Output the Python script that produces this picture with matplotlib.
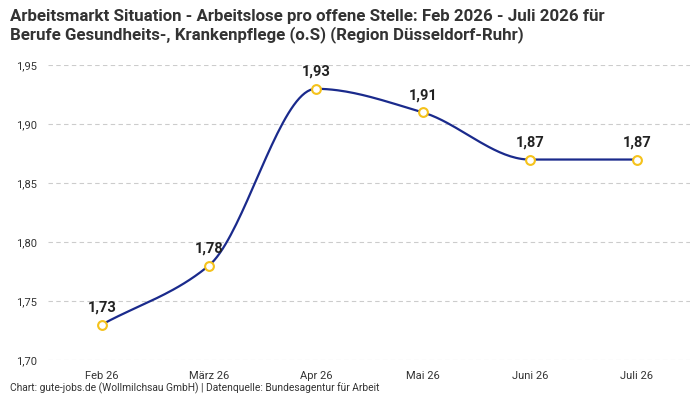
import numpy as np
import matplotlib
matplotlib.use("Agg")
import matplotlib.pyplot as plt

months = ["Feb 26", "März 26", "Apr 26", "Mai 26", "Juni 26", "Juli 26"]
values = [1.73, 1.78, 1.93, 1.91, 1.87, 1.87]

plt.rcParams["font.family"] = ["Roboto", "DejaVu Sans"]


def monotone_curve(x, y, n=40):
    # Fritsch-Carlson monotone cubic, only used to draw the smooth line
    x = np.asarray(x, float)
    y = np.asarray(y, float)
    h = np.diff(x)
    d = np.diff(y) / h
    m = np.zeros_like(y)
    m[0], m[-1] = d[0], d[-1]
    for i in range(1, len(y) - 1):
        if d[i - 1] * d[i] <= 0:
            m[i] = 0
        else:
            m[i] = 3 * (h[i - 1] + h[i]) / ((2 * h[i] + h[i - 1]) / d[i - 1] + (h[i] + 2 * h[i - 1]) / d[i])
    xs, ys = [], []
    for i in range(len(h)):
        t = np.linspace(0, 1, n)
        h00 = 2 * t**3 - 3 * t**2 + 1
        h10 = t**3 - 2 * t**2 + t
        h01 = -2 * t**3 + 3 * t**2
        h11 = t**3 - t**2
        xs.append(x[i] + t * h[i])
        ys.append(h00 * y[i] + h10 * h[i] * m[i] + h01 * y[i + 1] + h11 * h[i] * m[i + 1])
    return np.concatenate(xs), np.concatenate(ys)


fig = plt.figure(figsize=(7, 4), dpi=100)
ax = fig.add_axes([0.069, 0.1, 0.917, 0.737])

x = np.arange(len(months))
cx, cy = monotone_curve(x, values)
ax.plot(cx, cy, color="#1a2a8c", lw=1.6, zorder=2)
ax.scatter(x, values, s=40, facecolor="white", edgecolor="#f5c21b", linewidth=1.5, zorder=3)
for xi, v in zip(x, values):
    ax.annotate(f"{v:.2f}".replace(".", ","), (xi, v), xytext=(0, 7), textcoords="offset points",
                ha="center", va="bottom", fontsize=10.5, fontweight="bold", color="#222222")

ax.set_xlim(-0.5, 5.5)
ax.set_ylim(1.70, 1.95)
yt = [1.70, 1.75, 1.80, 1.85, 1.90, 1.95]
ax.set_yticks(yt)
ax.set_yticklabels([f"{t:.2f}".replace(".", ",") for t in yt])
ax.set_xticks(x)
ax.set_xticklabels(months)
ax.tick_params(length=0, labelsize=8, colors="#333333", pad=8)
ax.grid(axis="y", color="#cccccc", linestyle=(0, (4, 3)), lw=0.8)
for s in ax.spines.values():
    s.set_visible(False)

fig.text(0.014, 0.978, "Arbeitsmarkt Situation - Arbeitslose pro offene Stelle: Feb 2026 - Juli 2026 für\n"
         "Berufe Gesundheits-, Krankenpflege (o.S) (Region Düsseldorf-Ruhr)",
         ha="left", va="top", fontsize=12.2, fontweight="bold", color="#333333", linespacing=1.2)
fig.text(0.014, 0.015, "Chart: gute-jobs.de (Wollmilchsau GmbH) | Datenquelle: Bundesagentur für Arbeit",
         ha="left", va="bottom", fontsize=7.4, color="#333333")

fig.savefig("out.png", dpi=100)
